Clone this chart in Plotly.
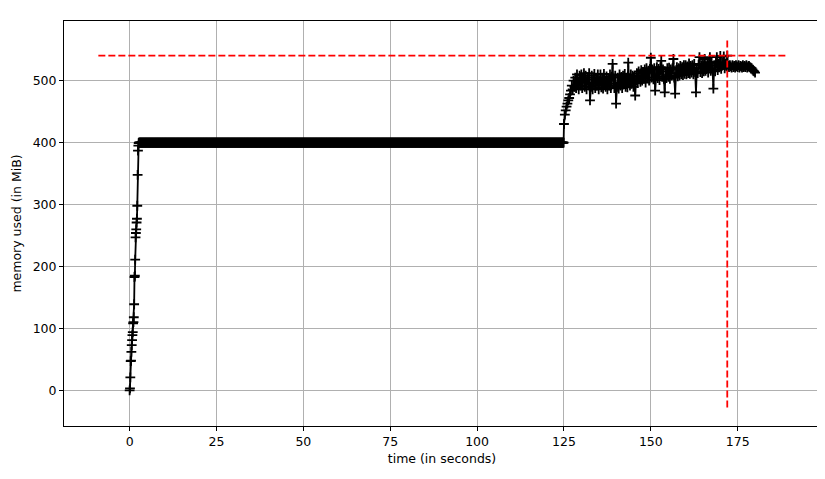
import numpy as np
import plotly.graph_objects as go

# --- data (memory profile, MiB vs seconds) ---
ramp_mem = [0, 3, 21, 47, 48, 62, 73, 81, 89, 94, 108, 110, 118, 139, 183, 185,
            211, 247, 254, 260, 271, 277, 298, 348, 387, 395, 399]
ramp_t = np.round(np.arange(len(ramp_mem)) * 0.1, 2)

plateau_level = 400.0
plateau_t = np.arange(2.7, 124.95, 0.1)
plateau_mem = [plateau_level] * len(plateau_t)

# sampled every 0.25 s from t = 125 s
busy_mem = [
    430, 445, 452, 458,   463, 468, 472, 478,   484, 492, 486, 500,
    490, 505, 488, 510,   495, 486, 508, 492,   510, 488, 503, 512,
    490, 508, 486, 505,   494, 512, 468, 490,   508, 486, 502, 511,
    488, 505, 492, 510,   486, 500, 510, 489,   505, 487, 511, 495,
    490, 507, 486, 504,   492, 510, 488, 506,   527, 495, 488, 508,
    463, 490, 505, 487,   510, 492, 506, 488,   508, 494, 511, 490,
    505, 489, 529, 498,   492, 510, 495, 508,   490, 506, 476, 500,
    512, 496, 515, 502,   498, 517, 500, 514,   503, 518, 497, 520,
    505, 516, 500, 519,   537, 505, 518, 502,   520, 484, 510, 522,
    504, 519, 501, 522,   532, 506, 518, 503,   481, 515, 504, 520,
    506, 521, 503, 518,   508, 520, 535, 505,   479, 512, 522, 507,
    520, 508, 524, 510,   522, 509, 525, 511,   525, 510, 523, 512,
    528, 511, 524, 513,   525, 510, 527, 514,   481, 520, 512, 526,
    538, 514, 525, 512,   527, 515, 535, 516,   520, 530, 513, 528,
    538, 516, 530, 518,   487, 525, 515, 530,   538, 517, 528, 522,
    540, 519, 530, 525,   539, 520, 528, 523,   540.5, 524, 522, 525,
    523, 521, 525, 522,   524, 521, 525, 523,   522, 525, 521, 524,
    523, 521, 525, 522,   524, 522, 525, 521,   523, 524, 522, 521,
    520, 518, 516, 515,   513,
]
busy_t = 125.0 + np.arange(len(busy_mem)) * 0.25

t = np.concatenate([ramp_t, plateau_t, busy_t])
mem = np.concatenate([ramp_mem, plateau_mem, busy_mem])

x_ticks = [0, 25, 50, 75, 100, 125, 150, 175]
y_ticks = [0, 100, 200, 300, 400, 500]

# matplotlib-like autoscale limits (5% margins)
x_lo, x_hi = -9.0, 188.8
y_lo, y_hi = -27.9, 566.6
xr = [x_lo - 0.05 * (x_hi - x_lo), x_hi + 0.05 * (x_hi - x_lo)]
yr = [y_lo - 0.05 * (y_hi - y_lo), y_hi + 0.05 * (y_hi - y_lo)]

i_max = int(np.argmax(mem))
t_max, m_max = float(t[i_max]), float(mem[i_max])

fig = go.Figure()
fig.add_trace(go.Scatter(
    x=t, y=mem, mode="lines+markers",
    line=dict(color="black", width=1.8),
    marker=dict(symbol="cross-thin", size=7, color="black",
                line=dict(width=1.8, color="black")),
    showlegend=False, hoverinfo="skip",
))
fig.add_trace(go.Scatter(
    x=[x_lo, x_hi], y=[m_max, m_max], mode="lines",
    line=dict(color="#ff0000", width=1.8, dash="7px,3px"),
    showlegend=False, hoverinfo="skip",
))
fig.add_trace(go.Scatter(
    x=[t_max, t_max], y=[y_lo, y_hi], mode="lines",
    line=dict(color="#ff0000", width=1.8, dash="7px,3px"),
    showlegend=False, hoverinfo="skip",
))

axis_common = dict(
    showgrid=True, gridcolor="#b0b0b0", gridwidth=1,
    zeroline=False, showline=True, linecolor="black", linewidth=1,
    mirror=True, ticks="outside", ticklen=4, tickcolor="black",
    automargin=False,
    tickfont=dict(family="DejaVu Sans", size=12.5, color="black"),
)
fig.update_xaxes(range=xr, tickvals=x_ticks,
                 title=dict(text="time (in seconds)", standoff=6,
                            font=dict(family="DejaVu Sans", size=12.5, color="black")),
                 **axis_common)
fig.update_yaxes(range=yr, tickvals=y_ticks,
                 title=dict(text="memory used (in MiB)", standoff=8,
                            font=dict(family="DejaVu Sans", size=12.5, color="black")),
                 **axis_common)
# the page body adds an 8 px offset, so the figure is sized to fit the window
fig.update_layout(
    width=817, height=471, autosize=False,
    margin=dict(l=56, r=5, t=13, b=53),
    paper_bgcolor="white", plot_bgcolor="white",
    font=dict(family="DejaVu Sans", size=12.5, color="black"),
)
fig.write_html("out.html")
